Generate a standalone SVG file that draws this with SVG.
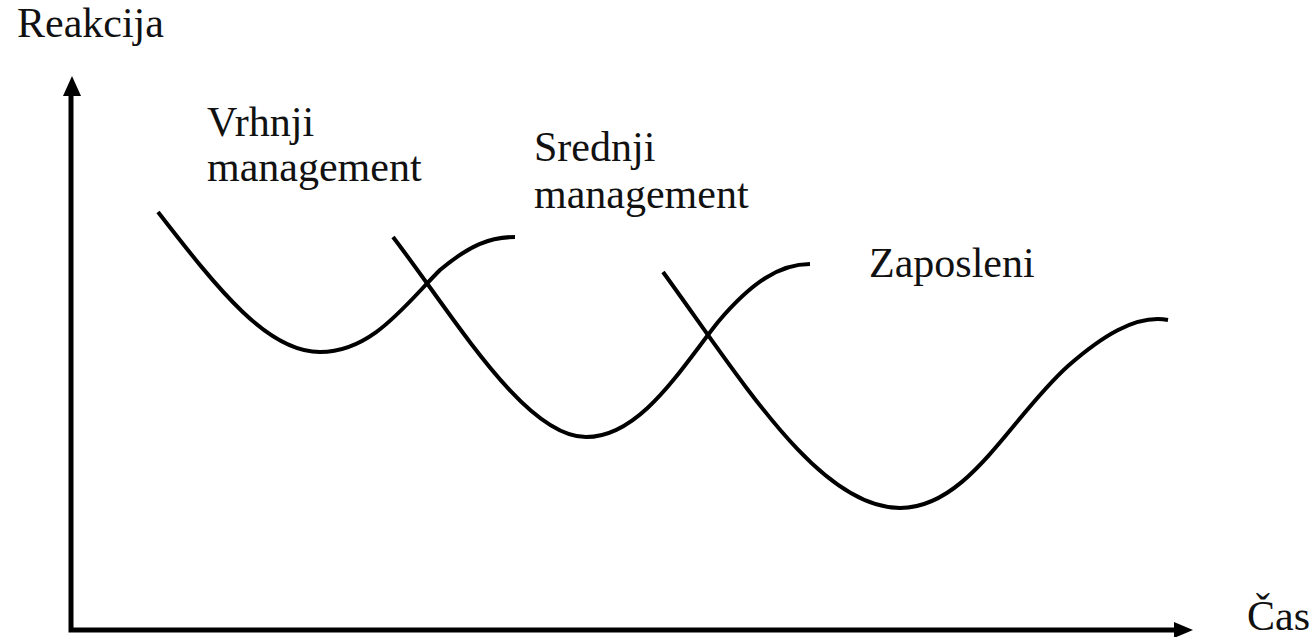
<svg xmlns="http://www.w3.org/2000/svg" width="1315" height="637" viewBox="0 0 1315 637">
  <style>
    .lbl { font-family: "Liberation Serif", "Times New Roman", serif; font-size: 42px; fill: #111; }
    .axis { stroke: #000; stroke-width: 5; fill: none; }
    .curve { stroke: #000; stroke-width: 4; fill: none; stroke-linecap: butt; }
  </style>
  <rect width="1315" height="637" fill="#fff"/>

  <!-- axes -->
  <g id="axes">
    <path class="axis" d="M71,92 L71,630 L1178,630"/>
    <polygon points="72,76 63,96 81,96" fill="#000"/>
    <polygon points="1193,630 1174,622 1174,638" fill="#000"/>
  </g>

  <!-- reaction curves -->
  <g id="curves">
    <path id="curve-vrhnji" class="curve" d="M158,212 C220,292 268,352 320,352 C372,352 405,305 440,270 C470,245 490,237 515,237"/>
    <path id="curve-srednji" class="curve" d="M393,237 C455,318 525,437 586,437 C640,437 680,370 718,322 C752,282 780,264 810,264"/>
    <path id="curve-zaposleni" class="curve" d="M663,272 C745,385 820,508 900,508 C968,508 1010,418 1068,366 C1100,338 1135,314 1168,320"/>
  </g>

  <!-- labels -->
  <g id="labels">
    <text class="lbl" x="17" y="37">Reakcija</text>
    <text class="lbl" x="207" y="136">Vrhnji</text>
    <text class="lbl" x="207" y="181">management</text>
    <text class="lbl" x="534" y="161">Srednji</text>
    <text class="lbl" x="534" y="208">management</text>
    <text class="lbl" x="869" y="277">Zaposleni</text>
    <text class="lbl" x="1247" y="630">Čas</text>
  </g>
</svg>
